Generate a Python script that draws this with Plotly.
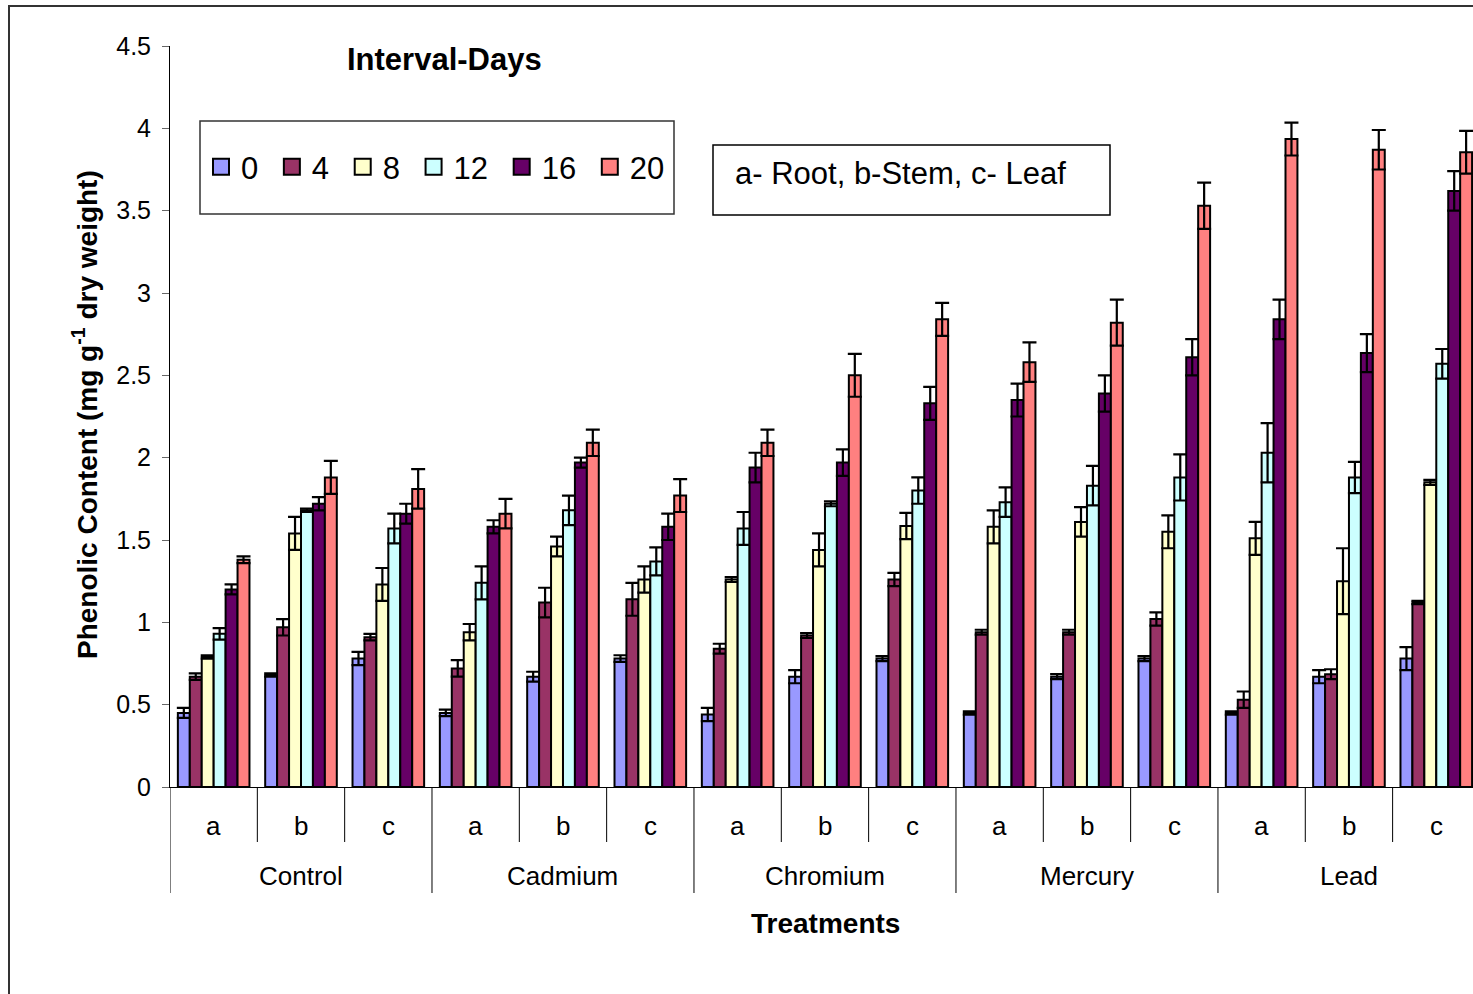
import plotly.graph_objects as go

# Treatments, plant parts and sampling intervals
treatments = ["Control", "Cadmium", "Chromium", "Mercury", "Lead"]
parts = ["a", "b", "c"]
intervals = ["0", "4", "8", "12", "16", "20"]
colors = ["#9999FF", "#993366", "#FFFFCC", "#CCFFFF", "#660066", "#FF8080"]

# Phenolic content (mg g-1 dry weight), 15 values per interval:
# Control a,b,c | Cadmium a,b,c | Chromium a,b,c | Mercury a,b,c | Lead a,b,c
day0 = [0.45, 0.68, 0.78, 0.45, 0.67, 0.78, 0.44, 0.67, 0.78, 0.45, 0.67, 0.78, 0.45, 0.67, 0.78]
day4 = [0.67, 0.97, 0.91, 0.72, 1.12, 1.14, 0.84, 0.92, 1.26, 0.94, 0.94, 1.02, 0.53, 0.685, 1.12]
day8 = [0.79, 1.54, 1.23, 0.94, 1.46, 1.26, 1.26, 1.44, 1.585, 1.58, 1.61, 1.55, 1.51, 1.25, 1.85]
day12 = [0.93, 1.68, 1.57, 1.24, 1.68, 1.37, 1.57, 1.72, 1.80, 1.73, 1.83, 1.88, 2.03, 1.88, 2.57]
day16 = [1.20, 1.72, 1.66, 1.58, 1.97, 1.58, 1.94, 1.97, 2.33, 2.35, 2.39, 2.61, 2.84, 2.635, 3.62]
day20 = [1.38, 1.88, 1.81, 1.66, 2.09, 1.77, 2.09, 2.50, 2.84, 2.58, 2.82, 3.53, 3.935, 3.87, 3.855]

# Standard errors
err0 = [0.03, 0.01, 0.04, 0.02, 0.03, 0.02, 0.04, 0.04, 0.015, 0.01, 0.015, 0.015, 0.01, 0.04, 0.07]
err4 = [0.02, 0.05, 0.02, 0.05, 0.09, 0.10, 0.03, 0.015, 0.04, 0.015, 0.015, 0.04, 0.05, 0.03, 0.01]
err8 = [0.01, 0.10, 0.10, 0.05, 0.06, 0.08, 0.015, 0.10, 0.08, 0.10, 0.09, 0.10, 0.10, 0.20, 0.015]
err12 = [0.035, 0.01, 0.09, 0.10, 0.09, 0.085, 0.10, 0.015, 0.08, 0.09, 0.12, 0.14, 0.18, 0.095, 0.09]
err16 = [0.03, 0.04, 0.06, 0.04, 0.03, 0.08, 0.09, 0.08, 0.10, 0.10, 0.11, 0.11, 0.12, 0.115, 0.12]
err20 = [0.02, 0.10, 0.12, 0.09, 0.08, 0.10, 0.08, 0.13, 0.10, 0.12, 0.14, 0.14, 0.10, 0.12, 0.13]

yticks = [0, 0.5, 1, 1.5, 2, 2.5, 3, 3.5, 4, 4.5]

series = [day0, day4, day8, day12, day16, day20]
errors = [err0, err4, err8, err12, err16, err20]

FONT = "Liberation Sans, Arial, sans-serif"
n_cat = len(treatments) * len(parts)
xpos = list(range(n_cat))

fig = go.Figure()
for name, vals, errs, col in zip(intervals, series, errors, colors):
    fig.add_trace(go.Bar(
        x=xpos, y=vals, name=name, legendgroup=name, showlegend=False,
        marker=dict(color=col, line=dict(color="black", width=2)),
        error_y=dict(type="data", array=errs, visible=True,
                     color="black", thickness=2.2, width=7),
    ))

# Legend keys: square swatches, one per interval, toggling the matching bars
for name, col in zip(intervals, colors):
    fig.add_trace(go.Scatter(
        x=[None], y=[None], mode="markers", name=name + "\u00a0", legendgroup=name,
        marker=dict(symbol="square", size=18, color=col,
                    line=dict(color="black", width=2)),
        hoverinfo="skip",
    ))

# Plot area geometry (pixels)
W, H = 1473, 994
L, R, T, B = 170, 0, 46, 207
pw, ph = W - L - R, H - T - B


def px_x(px):
    return (px - L) / pw


def px_y(py):
    return (H - B - py) / ph


def label(x, y, text, size, xref="paper", **kw):
    opts = dict(x=x, y=y, xref=xref, yref="paper", text=text, showarrow=False,
                xanchor="center", yanchor="middle",
                font=dict(family=FONT, size=size, color="black"))
    opts.update(kw)
    return opts


shapes = []
annotations = []

# Outer chart frame
shapes.append(dict(type="rect", xref="paper", yref="paper",
                   x0=px_x(9), x1=px_x(1500), y0=px_y(1010), y1=px_y(6),
                   line=dict(color="#333333", width=2), fillcolor="rgba(0,0,0,0)",
                   layer="below"))

# Category dividers below the axis
for k in range(n_cat + 1):
    outer = (k % len(parts) == 0)
    shapes.append(dict(type="line", xref="x", yref="paper",
                       x0=k - 0.5, x1=k - 0.5, y0=0,
                       y1=px_y(893) if outer else px_y(842),
                       line=dict(color="black", width=1)))

# Part labels and treatment labels
for i, t in enumerate(treatments):
    for j, p in enumerate(parts):
        annotations.append(label(i * len(parts) + j, px_y(826), p, 26, xref="x"))
    annotations.append(label(i * len(parts) + 1, px_y(876), t, 26, xref="x"))

annotations.append(label(px_x(825), px_y(923), "<b>Treatments</b>", 28))

annotations.append(label(px_x(85), px_y(415),
                         "<b>Phenolic Content (mg g<sup>-1</sup> dry weight)</b>", 28,
                         textangle=-90))

annotations.append(label(px_x(444), px_y(60), "<b>Interval-Days</b>", 31))

# Legend frame
shapes.append(dict(type="rect", xref="paper", yref="paper",
                   x0=px_x(200), x1=px_x(674), y0=px_y(214), y1=px_y(121),
                   line=dict(color="#333333", width=1.5), fillcolor="white", layer="below"))

# Key for the plant parts
shapes.append(dict(type="rect", xref="paper", yref="paper",
                   x0=px_x(713), x1=px_x(1110), y0=px_y(215), y1=px_y(145),
                   line=dict(color="black", width=1.5), fillcolor="white", layer="below"))
annotations.append(label(px_x(733), px_y(174), "a- Root, b-Stem, c- Leaf", 31,
                         xanchor="left"))

fig.update_layout(
    width=W, height=H, autosize=False,
    margin=dict(l=L, r=R, t=T, b=B, pad=0),
    paper_bgcolor="white", plot_bgcolor="rgba(0,0,0,0)",
    barmode="group", bargap=0.18, bargroupgap=0,
    font=dict(family=FONT, color="black"),
    showlegend=True,
    legend=dict(orientation="h", x=px_x(201), y=px_y(167), xanchor="left", yanchor="middle",
                font=dict(family=FONT, size=31, color="black"),
                bgcolor="rgba(0,0,0,0)", borderwidth=0, itemwidth=30,
                itemsizing="trace", traceorder="normal"),
    xaxis=dict(range=[-0.5, -0.5 + pw / 87.33], showticklabels=False, ticks="",
               showgrid=False, zeroline=False, showline=True, linecolor="black",
               linewidth=1, fixedrange=True),
    yaxis=dict(range=[0, 4.5], tickvals=yticks, ticks="outside", ticklen=7,
               tickcolor="#666666", tickwidth=1, showgrid=False, zeroline=False,
               showline=True, linecolor="black", linewidth=1, ticklabelstandoff=6,
               tickfont=dict(family=FONT, size=25, color="black"), fixedrange=True),
    shapes=shapes,
    annotations=annotations,
)

fig.write_html("out.html")
